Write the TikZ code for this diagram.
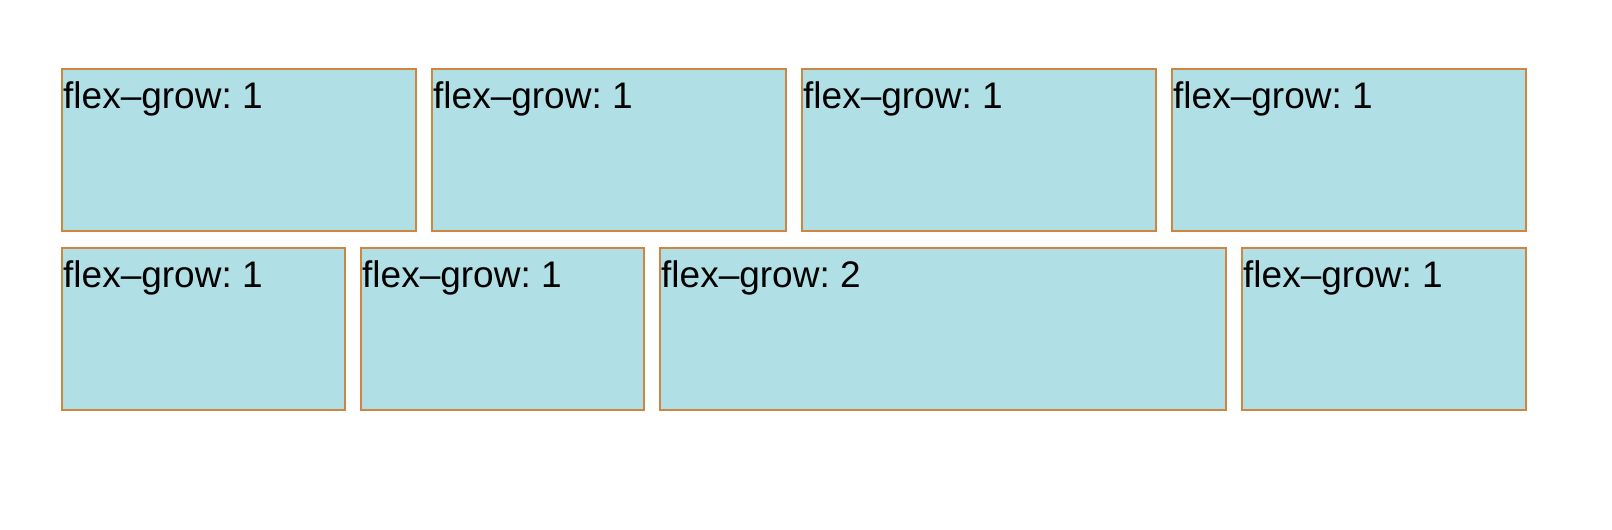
\documentclass[tikz,border=0pt]{standalone}
\usepackage{fontspec}
\setmainfont{Liberation Sans}
\usepackage{tikz}
\usetikzlibrary{positioning}

\definecolor{boxfill}{HTML}{B0E0E6}
\definecolor{boxline}{HTML}{CD853F}

\frenchspacing
\tikzset{
	flexbox/.style={draw=boxline, fill=boxfill, line width=1.2pt, rectangle, inner sep=0pt, outer sep=0pt, minimum height=162pt, anchor=north west},
	flexlabel/.style={font=\fontsize{37}{44}\selectfont, inner sep=0pt, anchor=base west, text=black}
}

\begin{document}
\begin{tikzpicture}[x=1pt, y=-1pt]
				\useasboundingbox (0,0) rectangle (1612,530);
				
				% first row
				\node[flexbox, minimum width=354pt] (a1) at (62,69) {};
				\node[flexbox, minimum width=354pt] (a2) at (432,69) {};
				\node[flexbox, minimum width=354pt] (a3) at (802,69) {};
				\node[flexbox, minimum width=354pt] (a4) at (1172,69) {};
				
				% second row
				\node[flexbox, minimum width=283pt] (b1) at (62,248) {};
				\node[flexbox, minimum width=283pt] (b2) at (361,248) {};
				\node[flexbox, minimum width=566pt] (b3) at (660,248) {};
				\node[flexbox, minimum width=284pt] (b4) at (1242,248) {};
				
				% labels
				\node[flexlabel] (ta1) at ([xshift=1pt, yshift=-39pt]a1.north west) {flex–grow: 1};
				\node[flexlabel] (ta2) at ([xshift=1pt, yshift=-39pt]a2.north west) {flex–grow: 1};
				\node[flexlabel] (ta3) at ([xshift=1pt, yshift=-39pt]a3.north west) {flex–grow: 1};
				\node[flexlabel] (ta4) at ([xshift=1pt, yshift=-39pt]a4.north west) {flex–grow: 1};
				\node[flexlabel] (tb1) at ([xshift=1pt, yshift=-39pt]b1.north west) {flex–grow: 1};
				\node[flexlabel] (tb2) at ([xshift=1pt, yshift=-39pt]b2.north west) {flex–grow: 1};
				\node[flexlabel] (tb3) at ([xshift=1pt, yshift=-39pt]b3.north west) {flex–grow: 2};
				\node[flexlabel] (tb4) at ([xshift=1pt, yshift=-39pt]b4.north west) {flex–grow: 1};
			\end{tikzpicture}
\end{document}
